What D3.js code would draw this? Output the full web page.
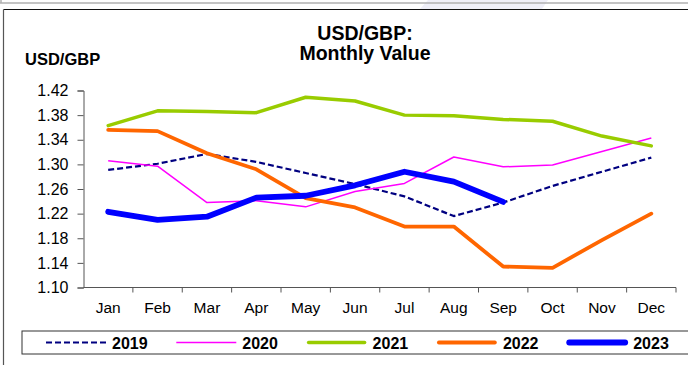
<!DOCTYPE html>
<html>
<head>
<meta charset="utf-8">
<script src="https://cdn.jsdelivr.net/npm/d3@7"></script>
<style>
  html, body { margin: 0; padding: 0; background: #fff; }
  svg { display: block; font-family: "Liberation Sans", Arial, sans-serif; }
</style>
</head>
<body>
<svg id="chart" width="688" height="365"></svg>
<script>
// Monthly USD/GBP averages by year
const months = ["Jan", "Feb", "Mar", "Apr", "May", "Jun", "Jul", "Aug", "Sep", "Oct", "Nov", "Dec"];
const years = ["2019", "2020", "2021", "2022", "2023"];
const values2019 = [1.291, 1.301, 1.317, 1.304, 1.286, 1.268, 1.248, 1.216, 1.238, 1.265, 1.288, 1.311];
const values2020 = [1.306, 1.297, 1.238, 1.241, 1.231, 1.256, 1.269, 1.312, 1.296, 1.299, 1.321, 1.343];
const values2021 = [1.363, 1.387, 1.386, 1.384, 1.409, 1.403, 1.380, 1.379, 1.373, 1.370, 1.346, 1.330];
const values2022 = [1.356, 1.354, 1.318, 1.292, 1.245, 1.230, 1.199, 1.199, 1.134, 1.132, 1.177, 1.220];
const values2023 = [1.223, 1.210, 1.215, 1.246, 1.249, 1.266, 1.288, 1.272, 1.239];
const yTicks = [1.10, 1.14, 1.18, 1.22, 1.26, 1.30, 1.34, 1.38, 1.42];

const seriesValues = [values2019, values2020, values2021, values2022, values2023];
const styles = [
  { color: "#000080", width: 2.2, dash: "6,3", cap: "butt" },
  { color: "#ff00ff", width: 1.5, dash: null, cap: "butt" },
  { color: "#99cc00", width: 3.5, dash: null, cap: "round" },
  { color: "#ff6600", width: 3.8, dash: null, cap: "round" },
  { color: "#0000ff", width: 5.8, dash: null, cap: "round" }
];

const svg = d3.select("#chart");

// faint band along the top edge
svg.append("polygon")
  .attr("points", "428,0 548,0 542,9 420,9")
  .attr("fill", "#efeff8");

// frame lines
svg.append("line").attr("x1", 0).attr("x2", 688).attr("y1", 3).attr("y2", 3)
  .attr("stroke", "#b0b0b0").attr("stroke-width", 1.5);
svg.append("line").attr("x1", 1).attr("x2", 1).attr("y1", 0).attr("y2", 3)
  .attr("stroke", "#b0b0b0").attr("stroke-width", 1.5);
svg.append("line").attr("x1", 3.5).attr("x2", 688).attr("y1", 9.5).attr("y2", 9.5)
  .attr("stroke", "#111").attr("stroke-width", 1.2);
svg.append("line").attr("x1", 3.5).attr("x2", 3.5).attr("y1", 9.5).attr("y2", 365)
  .attr("stroke", "#555").attr("stroke-width", 1.2);

// titles
const title = svg.append("text")
  .attr("x", 365).attr("text-anchor", "middle")
  .attr("font-weight", "bold").attr("font-size", 19.5).attr("fill", "#000");
title.append("tspan").attr("x", 365).attr("y", 40).text("USD/GBP:");
title.append("tspan").attr("x", 365).attr("y", 60).text("Monthly Value");

svg.append("text")
  .attr("x", 25).attr("y", 65)
  .attr("font-weight", "bold").attr("font-size", 16.5).attr("fill", "#000")
  .text("USD/GBP");

// scales
const x = d3.scaleBand().domain(months).range([83.5, 676]).padding(0);
const y = d3.scaleLinear().domain([1.10, 1.42]).range([287.5, 90.5]);
const cx = m => x(m) + x.bandwidth() / 2;

// y axis
const yAxis = svg.append("g")
  .attr("transform", "translate(83.5,0)")
  .call(d3.axisLeft(y).tickValues(yTicks).tickSize(6).tickPadding(9).tickFormat(d3.format(".2f")));
yAxis.select(".domain").attr("stroke", "#555");
yAxis.selectAll(".tick line").attr("stroke", "#555");
yAxis.selectAll(".tick text")
  .attr("font-size", 16).attr("fill", "#000")
  .attr("font-family", "\"Liberation Sans\", Arial, sans-serif");

// x axis: line, boundary ticks and centred labels
svg.append("line")
  .attr("x1", x.range()[0]).attr("x2", x.range()[1])
  .attr("y1", y(1.10)).attr("y2", y(1.10))
  .attr("stroke", "#555").attr("stroke-width", 1);
svg.append("g").selectAll("line")
  .data(months)
  .join("line")
  .attr("x1", d => x(d) + x.bandwidth()).attr("x2", d => x(d) + x.bandwidth())
  .attr("y1", y(1.10)).attr("y2", y(1.10) + 5)
  .attr("stroke", "#555");
const xAxis = svg.append("g")
  .attr("transform", `translate(0,${y(1.10)})`)
  .call(d3.axisBottom(x).tickSize(0).tickPadding(14));
xAxis.select(".domain").remove();
xAxis.selectAll(".tick text")
  .attr("font-size", 15.5).attr("fill", "#000")
  .attr("font-family", "\"Liberation Sans\", Arial, sans-serif");

// series lines
const line = d3.line()
  .x((d, i) => cx(months[i]))
  .y(d => y(d));

seriesValues.forEach((vals, k) => {
  const s = styles[k];
  svg.append("path")
    .datum(vals)
    .attr("d", line)
    .attr("fill", "none")
    .attr("stroke", s.color)
    .attr("stroke-width", s.width)
    .attr("stroke-linecap", s.cap)
    .attr("stroke-linejoin", "round")
    .attr("stroke-dasharray", s.dash);
});

// legend
svg.append("rect")
  .attr("x", 22).attr("y", 331).attr("width", 700).attr("height", 23)
  .attr("fill", "#fff").attr("stroke", "#333").attr("stroke-width", 1);

const legendY = 342.5;
years.forEach((yr, k) => {
  const s = styles[k];
  const x0 = 46 + k * 130.3;
  svg.append("line")
    .attr("x1", x0 + (s.cap === "round" ? 2 : 0)).attr("x2", x0 + 60 - (s.cap === "round" ? 2 : 0))
    .attr("y1", legendY).attr("y2", legendY)
    .attr("stroke", s.color)
    .attr("stroke-width", s.width)
    .attr("stroke-linecap", s.cap)
    .attr("stroke-dasharray", s.dash);
  svg.append("text")
    .attr("x", x0 + 66).attr("y", legendY + 6)
    .attr("font-weight", "bold").attr("font-size", 16).attr("fill", "#000")
    .text(yr);
});
</script>
</body>
</html>
